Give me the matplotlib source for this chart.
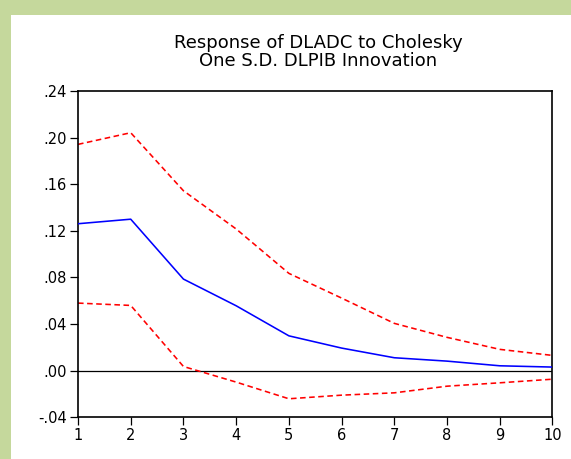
import matplotlib
matplotlib.use("Agg")
import matplotlib.pyplot as plt
from matplotlib.patches import Rectangle

periods = [1, 2, 3, 4, 5, 6, 7, 8, 9, 10]
response = [0.1261, 0.1300, 0.0786, 0.0557, 0.0299, 0.0194, 0.0111, 0.0082, 0.0042, 0.0031]
upper = [0.1942, 0.2042, 0.1544, 0.1216, 0.0835, 0.0623, 0.0406, 0.0286, 0.0183, 0.0131]
lower = [0.0580, 0.0560, 0.0036, -0.0098, -0.0241, -0.0210, -0.0190, -0.0133, -0.0104, -0.0073]
yticks = [-0.04, 0.00, 0.04, 0.08, 0.12, 0.16, 0.20, 0.24]
ytick_labels = ["-.04", ".00", ".04", ".08", ".12", ".16", ".20", ".24"]
title = "Response of DLADC to Cholesky\nOne S.D. DLPIB Innovation"

plt.rcParams['font.family'] = ['DejaVu Sans']

fig = plt.figure(figsize=(5.71, 4.59), dpi=100)
fig.patch.set_facecolor('#c5d89c')
bg = Rectangle((11/571, 0), 1, 1 - 15/459, transform=fig.transFigure,
               facecolor='white', edgecolor='none', zorder=-10)
fig.patches.append(bg)

ax = fig.add_axes([78/571, 1 - 417.3/459, (552.5 - 78)/571, (417.3 - 91)/459])
ax.set_zorder(5)
ax.set_facecolor('white')
ax.axhline(0, color='black', lw=0.9, zorder=1)
ax.plot(periods, upper, color='red', lw=1.15, dashes=(3.5, 2.2), zorder=2)
ax.plot(periods, lower, color='red', lw=1.15, dashes=(3.5, 2.2), zorder=2)
ax.plot(periods, response, color='blue', lw=1.15, zorder=3)

ax.set_xlim(1, 10)
ax.set_ylim(-0.04, 0.24)
ax.set_xticks(periods)
ax.set_xticklabels([str(p) for p in periods])
ax.set_yticks(yticks)
ax.set_yticklabels(ytick_labels)
ax.tick_params(direction='out', length=5.5, width=0.9, labelsize=10.5,
               top=False, right=False)
ax.tick_params(axis='x', pad=2)
ax.tick_params(axis='y', pad=2.5)
for s in ax.spines.values():
    s.set_linewidth(1.2)
    s.set_color('black')

fig.text(318/571, 1 - 52/459, title, ha='center', va='center', fontsize=13,
         linespacing=1.0)

fig.savefig('out.png', dpi=100, facecolor=fig.get_facecolor())
